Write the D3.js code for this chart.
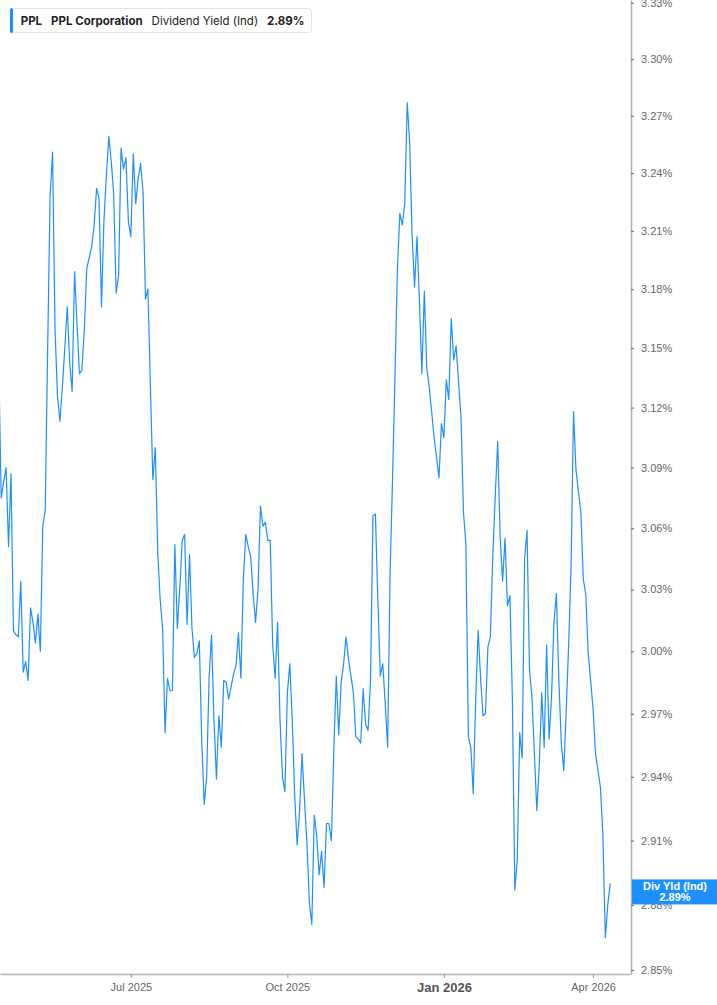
<!DOCTYPE html>
<html><head><meta charset="utf-8">
<script src="https://cdn.jsdelivr.net/npm/d3@7"></script>
<style>body{margin:0;background:#fff}svg{display:block}</style>
</head><body>
<svg id="chart" width="717" height="1005"></svg>
<script>
// trading-day index of the first value (first value sits just left of the visible area)
const startDay = -1;
// PPL dividend yield (%), one value per trading day
const divYield = [
3.142,3.075,3.083,3.090,3.051,3.087,3.010,3.008,3.007,3.034,
2.990,2.995,2.986,3.021,3.014,3.004,3.018,3.000,3.061,3.069,
3.150,3.228,3.251,3.160,3.126,3.113,3.130,3.150,3.171,3.143,
3.128,3.189,3.162,3.137,3.139,3.160,3.191,3.196,3.202,3.213,
3.232,3.227,3.171,3.215,3.239,3.259,3.246,3.229,3.178,3.187,
3.253,3.242,3.248,3.215,3.207,3.250,3.224,3.237,3.245,3.230,
3.175,3.180,3.131,3.084,3.100,3.048,3.025,3.011,2.961,2.987,
2.981,2.981,3.052,3.011,3.030,3.054,3.057,3.013,3.047,3.011,
2.997,2.999,3.005,2.957,2.927,2.940,2.987,3.008,2.967,2.939,
2.969,2.954,2.986,2.985,2.977,2.983,2.989,2.993,3.009,2.987,
3.035,3.057,3.051,3.046,3.028,3.014,3.030,3.071,3.061,3.063,
3.054,3.054,3.003,2.987,3.014,2.967,2.940,2.933,2.980,2.994,
2.967,2.931,2.908,2.924,2.951,2.929,2.909,2.881,2.871,2.922,
2.912,2.894,2.905,2.888,2.918,2.918,2.910,2.953,2.988,2.960,
2.985,2.994,3.007,2.996,2.988,2.980,2.959,2.958,2.956,2.982,
2.965,2.962,2.986,3.066,3.067,3.025,2.988,2.994,2.975,2.954,
3.038,3.084,3.136,3.191,3.219,3.213,3.224,3.277,3.256,3.208,
3.181,3.207,3.174,3.137,3.179,3.140,3.130,3.118,3.105,3.095,
3.085,3.112,3.105,3.134,3.124,3.165,3.144,3.151,3.133,3.115,
3.068,3.052,2.959,2.954,2.932,2.977,3.010,2.987,2.969,2.970,
3.002,3.007,3.047,3.076,3.103,3.056,3.034,3.055,3.022,3.027,
2.977,2.887,2.901,2.961,2.949,3.045,3.059,2.991,2.978,2.951,
2.924,2.946,2.980,2.954,3.003,2.958,2.978,3.014,3.028,2.986,
2.956,2.943,2.971,3.003,3.041,3.118,3.089,3.078,3.068,3.035,
3.028,2.999,2.986,2.972,2.951,2.943,2.935,2.913,2.865,2.880,
2.890
];
// x-axis ticks: trading-day index of first session of each labelled month
const tickDays = [53, 117, 181, 242];
const tickLabels = ["Jul 2025", "Oct 2025", "Jan 2026", "Apr 2026"];
const boldTick = "Jan 2026";
// y-axis ticks (%)
const yTickValues = [2.85,2.88,2.91,2.94,2.97,3.00,3.03,3.06,3.09,3.12,3.15,3.18,3.21,3.24,3.27,3.30,3.33];
// legend texts
const legendParts = ["PPL", "PPL Corporation", "Dividend Yield (Ind)", "2.89%"];
const legendBold = [true, true, false, true];
const lastLabelTitle = "Div Yld (Ind)";
const lastLabelValue = "2.89%";

const BLUE = "#1e8fff";
const plotW = 631, plotH = 974;
const svg = d3.select("#chart");

const x = d3.scaleLinear().domain([-0.49, 257.5]).range([0, plotW]);
const y = d3.scaleLog().domain([2.84817, 3.3315]).range([plotH, 0]);

svg.append("defs").append("clipPath").attr("id", "plotclip")
  .append("rect").attr("x", 0).attr("y", 0).attr("width", plotW).attr("height", plotH);

// line
const line = d3.line().x((d, i) => x(startDay + i)).y(d => y(d));
svg.append("path").datum(divYield)
  .attr("clip-path", "url(#plotclip)")
  .attr("fill", "none").attr("stroke", BLUE).attr("stroke-width", 1.2)
  .attr("stroke-linejoin", "round")
  .attr("d", line);

// right axis
const yAxis = svg.append("g").attr("transform", `translate(${plotW},0)`)
  .call(d3.axisRight(y).tickValues(yTickValues).tickFormat(d => d.toFixed(2) + "%")
    .tickSize(3).tickSizeOuter(0).tickPadding(7));
yAxis.select(".domain").attr("stroke", "#b3b3b3").attr("stroke-width", 1.6);
yAxis.selectAll(".tick line").attr("stroke", "#777").attr("stroke-width", 1.2);
yAxis.selectAll(".tick text").attr("fill", "#666")
  .style("font-family", "'Liberation Sans', Arial, sans-serif").style("font-size", "11px");

// bottom axis
const xAxis = svg.append("g").attr("transform", `translate(0,${plotH})`)
  .call(d3.axisBottom(x).tickValues(tickDays).tickFormat((d, i) => tickLabels[i])
    .tickSize(4).tickSizeOuter(0).tickPadding(5));
xAxis.select(".domain").attr("stroke", "#b3b3b3").attr("stroke-width", 1.6);
xAxis.selectAll(".tick line").attr("stroke", "#999");
xAxis.selectAll(".tick text")
  .style("font-family", "'Liberation Sans', Arial, sans-serif")
  .style("font-size", (d, i) => tickLabels[i] === boldTick ? "13px" : "11px")
  .style("font-weight", (d, i) => tickLabels[i] === boldTick ? "bold" : "normal")
  .attr("fill", (d, i) => tickLabels[i] === boldTick ? "#555" : "#666");

// end label
const lastVal = divYield[divYield.length - 1];
const ly = y(lastVal) - 4;
const lab = svg.append("g");
lab.append("rect").attr("x", plotW + 1).attr("y", ly).attr("width", 717 - plotW - 1).attr("height", 25).attr("fill", BLUE);
lab.append("text").attr("x", 675).attr("y", ly + 11).attr("text-anchor", "middle")
  .attr("fill", "#fff").style("font-family", "'Liberation Sans', Arial, sans-serif")
  .style("font-size", "11px").style("font-weight", "bold").text(lastLabelTitle);
lab.append("text").attr("x", 675).attr("y", ly + 22).attr("text-anchor", "middle")
  .attr("fill", "#fff").style("font-family", "'Liberation Sans', Arial, sans-serif")
  .style("font-size", "11px").style("font-weight", "bold").text(lastLabelValue);

// legend
const lg = svg.append("g");
const box = lg.append("rect").attr("x", 10.5).attr("y", 8.5).attr("height", 24).attr("rx", 3)
  .attr("fill", "#fff").attr("stroke", "#e4e4e4");
lg.append("rect").attr("x", 10).attr("y", 8).attr("width", 3).attr("height", 25).attr("rx", 1.5).attr("fill", BLUE);
let cx = 20.7;
legendParts.forEach((t, i) => {
  const el = lg.append("text").attr("x", cx).attr("y", 25)
    .style("font-family", "Inter, 'Noto Sans', sans-serif").style("font-size", "11.5px")
    .style("font-weight", legendBold[i] ? "700" : "400")
    .attr("fill", "#222").text(t);
  cx += el.node().getComputedTextLength() + 9;
});
box.attr("width", cx - 9 + 7 - 10.5);
</script>
</body></html>
